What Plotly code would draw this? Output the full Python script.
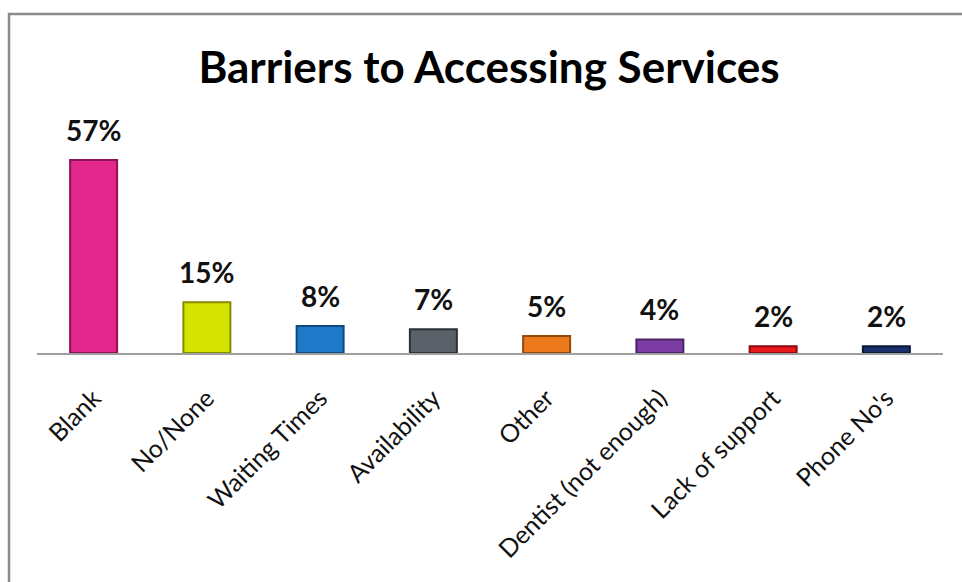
import plotly.graph_objects as go

# Survey responses: barriers people reported when accessing services
categories = ["Blank", "No/None", "Waiting Times", "Availability", "Other",
              "Dentist (not enough)", "Lack of support", "Phone No's"]
percentages = [57, 15, 8, 7, 5, 4, 2, 2]
bar_colors = ["#E2288C", "#D6E200", "#1F78C8", "#5B6168", "#EC7A1C",
              "#7B3DA3", "#E81A1E", "#1B2F6A"]
edge_colors = ["#8E1256", "#848C00", "#0E4A80", "#2E3236", "#94480A",
               "#4A2266", "#8E0A0E", "#0C1838"]

W, H = 962, 582
M_L, M_R, M_T, M_B = 37, 19, 110, 229
plot_w = W - M_L - M_R
plot_h = H - M_T - M_B
px_per_pct = 3.386
y_top = plot_h / px_per_pct

FONT = "Lato, Carlito, sans-serif"

fig = go.Figure()
fig.add_trace(go.Bar(
    x=categories,
    y=percentages,
    marker=dict(color=bar_colors, line=dict(color=edge_colors, width=2)),
    hoverinfo="x+y",
))

for cat, val in zip(categories, percentages):
    fig.add_annotation(
        x=cat, y=val, text=f"<b>{val}%</b>", showarrow=False,
        yanchor="bottom", yshift=11,
        font=dict(family=FONT, size=28, color="#111111"),
    )

# Chart frame (left and top edges visible, runs off the page on the other sides)
def px_to_paper_x(px):
    return (px - M_L) / plot_w

def px_to_paper_y(py):
    return (H - M_B - py) / plot_h

fig.add_shape(
    type="rect", xref="paper", yref="paper", layer="below",
    x0=px_to_paper_x(9), x1=px_to_paper_x(W + 20),
    y0=px_to_paper_y(H + 20), y1=px_to_paper_y(14),
    line=dict(color="#8A8A8A", width=2.5), fillcolor="rgba(0,0,0,0)",
)

fig.update_layout(
    width=W, height=H,
    margin=dict(l=M_L, r=M_R, t=M_T, b=M_B),
    paper_bgcolor="white", plot_bgcolor="white",
    bargap=0.585,
    showlegend=False,
    title=dict(
        text="<b>Barriers to Accessing Services</b>",
        x=489 / W, xanchor="center", xref="container",
        y=1 - 68 / H, yanchor="middle", yref="container",
        font=dict(family=FONT, size=44, color="#000000"),
    ),
    xaxis=dict(
        showline=True, linecolor="#A0A0A0", linewidth=1.5,
        showgrid=False, zeroline=False, ticks="",
        tickangle=-45, ticklabelstandoff=19,
        tickfont=dict(family=FONT, size=25, color="#111111"),
    ),
    yaxis=dict(visible=False, range=[0, y_top], showgrid=False, zeroline=False),
)

fig.write_html("out.html")
